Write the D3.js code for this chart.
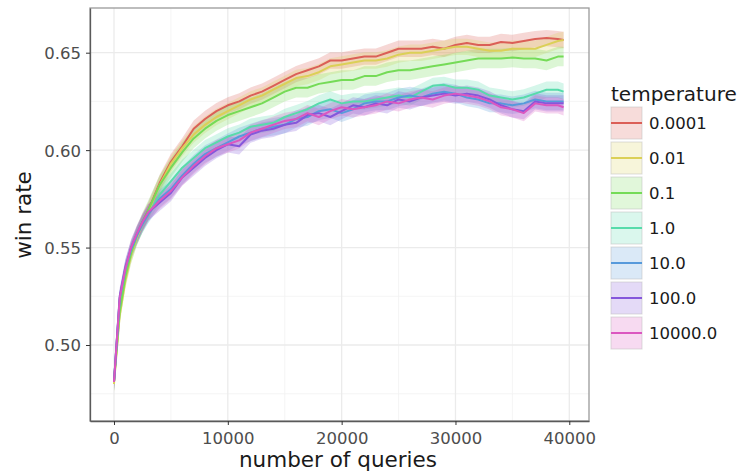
<!DOCTYPE html>
<html>
<head>
<meta charset="utf-8">
<script src="https://cdn.jsdelivr.net/npm/d3@7"></script>
<style>
  html, body { margin: 0; padding: 0; background: #fff; }
  svg { display: block; font-family: "DejaVu Sans", sans-serif; }
</style>
</head>
<body>
<svg id="chart" width="753" height="475"></svg>
<script>
// ---------------- data ----------------
const queries = [0,500,1000,1500,2000,2500,3000,4000,5000,6000,7000,8000,9000,10000,11000,12000,13000,14000,15000,16000,17000,18000,19000,20000,21000,22000,23000,24000,25000,26000,27000,28000,29000,30000,31000,32000,33000,34000,35000,36000,37000,38000,39000,39500];

const temperatures = ["0.0001", "0.01", "0.1", "1.0", "10.0", "100.0", "10000.0"];
const colors = ["#db5f57", "#dbd057", "#75db57", "#57dbab", "#579adb", "#8557db", "#db57c0"];

const winT0_0001 = [0.481,0.519,0.536,0.548,0.556,0.563,0.569,0.583,0.594,0.602,0.611,0.616,0.620,0.623,0.625,0.628,0.630,0.633,0.636,0.639,0.641,0.643,0.646,0.646,0.647,0.648,0.648,0.650,0.652,0.652,0.652,0.653,0.652,0.654,0.655,0.654,0.654,0.6555,0.655,0.656,0.657,0.6575,0.657,0.6565];
const winT0_01   = [0.480,0.515,0.533,0.546,0.555,0.562,0.568,0.582,0.593,0.601,0.608,0.613,0.617,0.620,0.623,0.626,0.628,0.631,0.634,0.637,0.638,0.640,0.643,0.644,0.645,0.646,0.646,0.647,0.649,0.650,0.650,0.651,0.652,0.653,0.653,0.652,0.651,0.651,0.652,0.652,0.652,0.654,0.656,0.6565];
const winT0_1    = [0.481,0.517,0.535,0.547,0.556,0.563,0.569,0.582,0.591,0.599,0.606,0.611,0.615,0.618,0.620,0.622,0.624,0.627,0.630,0.632,0.632,0.634,0.635,0.636,0.636,0.638,0.638,0.640,0.641,0.641,0.642,0.643,0.644,0.645,0.646,0.647,0.647,0.647,0.6475,0.647,0.647,0.646,0.648,0.648];
const winT1      = [0.481,0.523,0.539,0.549,0.556,0.562,0.567,0.577,0.584,0.591,0.596,0.601,0.604,0.607,0.609,0.612,0.613,0.614,0.617,0.619,0.621,0.624,0.626,0.624,0.625,0.625,0.626,0.627,0.628,0.627,0.630,0.633,0.6335,0.632,0.632,0.631,0.628,0.627,0.626,0.627,0.629,0.631,0.631,0.630];
const winT10     = [0.481,0.524,0.539,0.549,0.556,0.562,0.567,0.575,0.580,0.587,0.593,0.598,0.601,0.604,0.607,0.609,0.611,0.612,0.613,0.616,0.617,0.620,0.621,0.619,0.621,0.624,0.625,0.625,0.627,0.628,0.627,0.629,0.630,0.629,0.627,0.626,0.624,0.624,0.623,0.624,0.626,0.625,0.625,0.625];
const winT100    = [0.481,0.525,0.540,0.550,0.557,0.563,0.568,0.573,0.578,0.586,0.591,0.596,0.600,0.603,0.602,0.608,0.610,0.611,0.613,0.614,0.618,0.619,0.617,0.620,0.623,0.622,0.624,0.623,0.626,0.625,0.627,0.628,0.629,0.628,0.629,0.628,0.626,0.623,0.621,0.620,0.625,0.624,0.624,0.624];
const winT10000  = [0.481,0.524,0.539,0.550,0.557,0.563,0.568,0.574,0.579,0.586,0.592,0.597,0.601,0.603,0.605,0.609,0.611,0.613,0.615,0.616,0.619,0.617,0.620,0.622,0.621,0.622,0.623,0.625,0.624,0.626,0.627,0.626,0.628,0.629,0.628,0.627,0.625,0.622,0.621,0.619,0.624,0.623,0.623,0.622];

// half-width of the confidence band for each temperature
const ciHalfWidth = [0.0042, 0.0042, 0.005, 0.0042, 0.0045, 0.0042, 0.0042];

const yTicks = [0.50, 0.55, 0.60, 0.65];
const yMinor = [0.475, 0.525, 0.575, 0.625];
const xTicks = [0, 10000, 20000, 30000, 40000];
const xMinor = [5000, 15000, 25000, 35000];

const seriesValues = [winT0_0001, winT0_01, winT0_1, winT1, winT10, winT100, winT10000];

// ---------------- layout ----------------
const panel = { left: 90, right: 589, top: 8, bottom: 421 };
const svg = d3.select("#chart");

const x = d3.scaleLinear().domain([-2108, 41731]).range([panel.left, panel.right]);
const y = d3.scaleLinear().domain([0.4610, 0.67294]).range([panel.bottom, panel.top]);

const series = temperatures.map((t, i) => ({
  name: t,
  color: colors[i],
  ci: ciHalfWidth[i],
  values: queries.map((q, j) => ({ q: q, v: seriesValues[i][j] }))
}));

svg.append("rect").attr("x", 0).attr("y", 0).attr("width", 753).attr("height", 475).attr("fill", "#fff");

// grid
const grid = svg.append("g");
grid.selectAll(".xminor").data(xMinor).enter().append("line")
  .attr("x1", d => x(d)).attr("x2", d => x(d))
  .attr("y1", panel.top).attr("y2", panel.bottom)
  .attr("stroke", "#f2f2f2").attr("stroke-width", 0.8);
grid.selectAll(".yminor").data(yMinor).enter().append("line")
  .attr("y1", d => y(d)).attr("y2", d => y(d))
  .attr("x1", panel.left).attr("x2", panel.right)
  .attr("stroke", "#f2f2f2").attr("stroke-width", 0.8);
grid.selectAll(".xmajor").data(xTicks).enter().append("line")
  .attr("x1", d => x(d)).attr("x2", d => x(d))
  .attr("y1", panel.top).attr("y2", panel.bottom)
  .attr("stroke", "#ebebeb").attr("stroke-width", 1.3);
grid.selectAll(".ymajor").data(yTicks).enter().append("line")
  .attr("y1", d => y(d)).attr("y2", d => y(d))
  .attr("x1", panel.left).attr("x2", panel.right)
  .attr("stroke", "#ebebeb").attr("stroke-width", 1.3);

// ribbons
const plotG = svg.append("g");
series.forEach(s => {
  const a = d3.area()
    .x(d => x(d.q))
    .y0(d => y(d.v - s.ci))
    .y1(d => y(d.v + s.ci));
  plotG.append("path")
    .datum(s.values)
    .attr("d", a)
    .attr("fill", s.color)
    .attr("fill-opacity", 0.25)
    .attr("stroke", "none");
});

// lines
const line = d3.line().x(d => x(d.q)).y(d => y(d.v));
series.forEach(s => {
  plotG.append("path")
    .datum(s.values)
    .attr("d", line)
    .attr("fill", "none")
    .attr("stroke", s.color)
    .attr("stroke-width", 2)
    .attr("stroke-linejoin", "round");
});

// panel border
svg.append("rect")
  .attr("x", panel.left).attr("y", panel.top)
  .attr("width", panel.right - panel.left).attr("height", panel.bottom - panel.top)
  .attr("fill", "none").attr("stroke", "#9a9a9a").attr("stroke-width", 1.3);

// axes
const xAxis = d3.axisBottom(x).tickValues(xTicks).tickFormat(d3.format("d")).tickSize(4).tickSizeOuter(0).tickPadding(3);
const yAxis = d3.axisLeft(y).tickValues(yTicks).tickFormat(d3.format(".2f")).tickSize(4).tickSizeOuter(0).tickPadding(5);

const gx = svg.append("g").attr("transform", `translate(0,${panel.bottom})`).call(xAxis);
const gy = svg.append("g").attr("transform", `translate(${panel.left},0)`).call(yAxis);
[gx, gy].forEach(g => {
  g.select(".domain").attr("stroke", "#5a5a5a").attr("stroke-width", 1.3);
  g.selectAll(".tick line").attr("stroke", "#333").attr("stroke-width", 1);
  g.selectAll(".tick text")
    .attr("fill", "#4d4d4d")
    .style("font-family", "'DejaVu Sans', sans-serif")
    .style("font-size", "16.5px");
});
gx.selectAll(".tick text").attr("dy", "0.95em");
gy.selectAll(".tick text").attr("dy", "0.36em");

// axis titles
svg.append("text")
  .attr("x", 338).attr("y", 467)
  .attr("text-anchor", "middle")
  .attr("fill", "#1a1a1a")
  .style("font-size", "21.5px")
  .text("number of queries");

svg.append("text")
  .attr("transform", "translate(31,215) rotate(-90)")
  .attr("text-anchor", "middle")
  .attr("fill", "#1a1a1a")
  .style("font-size", "21.5px")
  .text("win rate");

// legend
const legend = svg.append("g");
legend.append("text")
  .attr("x", 611).attr("y", 100.5)
  .attr("fill", "#1a1a1a")
  .style("font-size", "20px")
  .text("temperature");

const keyX = 611, keyW = 31, keyH = 32, keyTop = 107, keyStep = 35;
const items = legend.selectAll(".item").data(series).enter().append("g")
  .attr("transform", (d, i) => `translate(0,${keyTop + i * keyStep})`);
items.append("rect")
  .attr("x", keyX).attr("y", 0).attr("width", keyW).attr("height", keyH)
  .attr("fill", d => d.color).attr("fill-opacity", 0.22)
  .attr("stroke", "#bbb").attr("stroke-opacity", 0.5).attr("stroke-width", 1);
items.append("line")
  .attr("x1", keyX).attr("x2", keyX + keyW)
  .attr("y1", keyH / 2).attr("y2", keyH / 2)
  .attr("stroke", d => d.color).attr("stroke-width", 2);
items.append("text")
  .attr("x", 649).attr("y", keyH / 2 + 5.5)
  .attr("fill", "#1a1a1a")
  .style("font-size", "16.5px")
  .text(d => d.name);
</script>
</body>
</html>
